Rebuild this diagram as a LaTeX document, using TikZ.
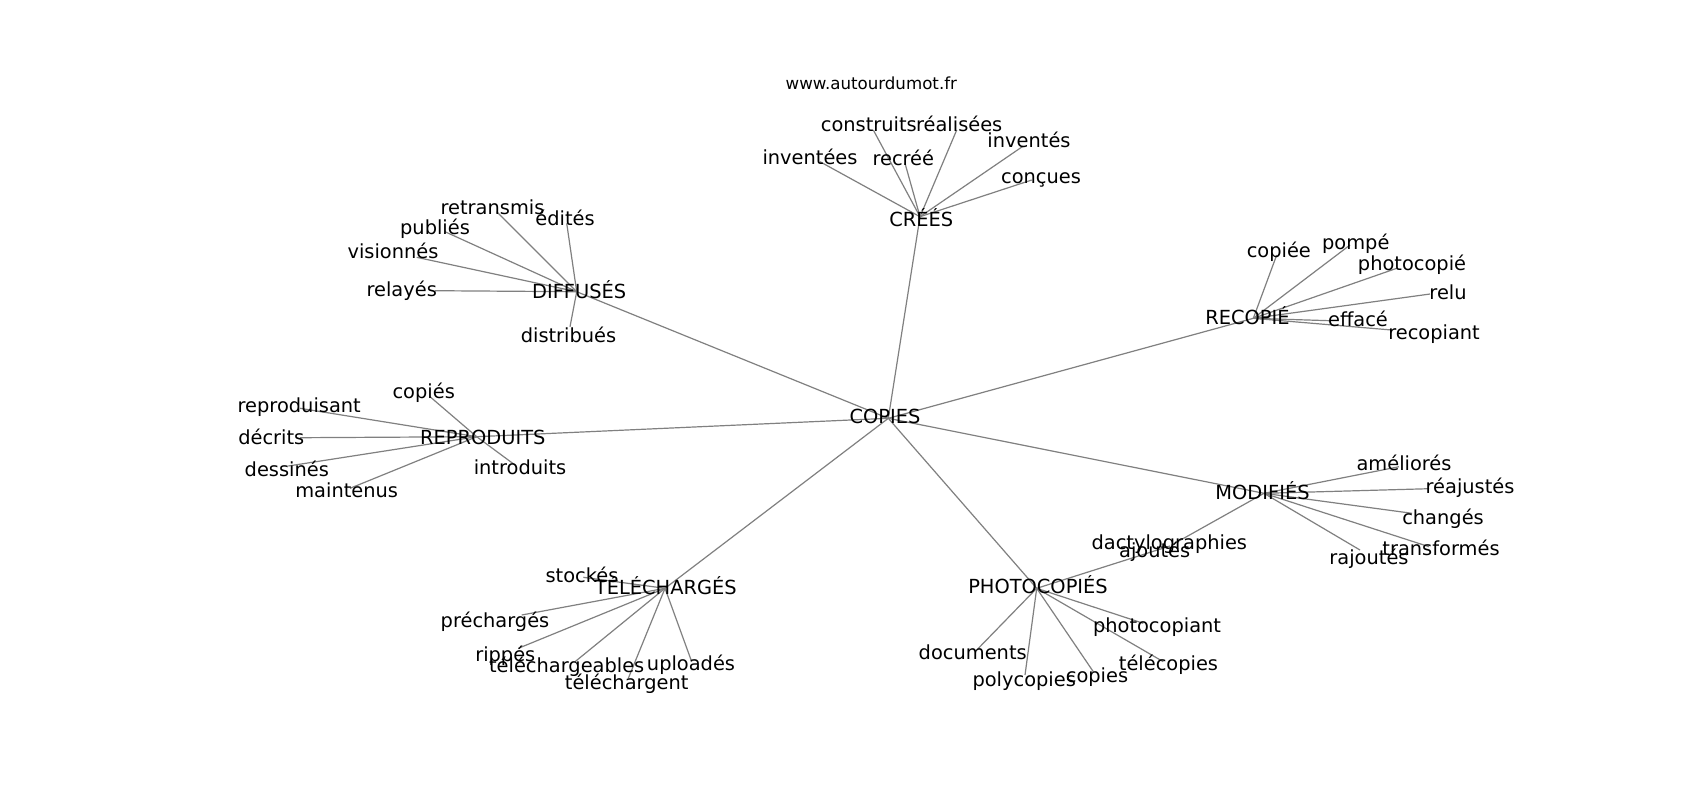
\documentclass[tikz,border=0pt]{standalone}
\usepackage{fontspec}
\setmainfont{DejaVu Sans}
\pgfdeclarelayer{back}
\pgfdeclarelayer{bg}
\pgfsetlayers{back,bg,main}
\tikzset{
  edge/.style={draw=gray, line width=0.6pt},
  lbl/.style={inner sep=0pt, text height=7.37pt, text depth=0pt, anchor=center, font=\fontsize{9.7}{11}\selectfont, text=black},
  urlbl/.style={inner sep=0pt, text height=6.33pt, text depth=0pt, anchor=center, font=\fontsize{8.33}{10}\selectfont, text=black}
}
\newcommand\wleaf[5]{%
  \coordinate (c#1) at (#3);
  \node[lbl] (t#1) at (#4) {#5};
  \begin{pgfonlayer}{bg}\draw[edge] (c#2) -- (c#1);\end{pgfonlayer}
}
\begin{document}
\begin{tikzpicture}[x=0.5pt, y=-0.5pt]
\begin{pgfonlayer}{back}
\fill[white] (0,0) rectangle (1700,800);
\end{pgfonlayer}
\useasboundingbox (0,0) rectangle (1700,800);

\node[urlbl] (url) at (871.3,83.3) {www.autourdumot.fr};

% center
\coordinate (cCOPIES) at (888.3,418.3);
\node[lbl] (tCOPIES) at (885,416) {COPIES};

% hubs
\wleaf{CREES}{COPIES}{920,216.7}{921.2,219.3}{CRÉÉS}
\wleaf{DIFFUSES}{COPIES}{576.7,291.7}{579.2,290.7}{DIFFUSÉS}
\wleaf{RECOPIE}{COPIES}{1253.3,318.3}{1247.5,317}{RECOPIÉ}
\wleaf{REPRODUITS}{COPIES}{476.7,436.7}{482.8,436.7}{REPRODUITS}
\wleaf{MODIFIES}{COPIES}{1264,493.3}{1262.5,491.7}{MODIFIÉS}
\wleaf{TELECHARGES}{COPIES}{665,588.3}{665.8,587.3}{TÉLÉCHARGÉS}
\wleaf{PHOTOCOPIES}{COPIES}{1036.7,588.3}{1038,585.7}{PHOTOCOPIÉS}

% CRÉÉS
\wleaf{construits}{CREES}{873.3,130}{868.8,124}{construits}
\wleaf{realisees}{CREES}{956.7,130}{959.2,124}{réalisées}
\wleaf{inventes}{CREES}{1023.3,146}{1029,140.5}{inventés}
\wleaf{inventees}{CREES}{820,161.7}{810,156.7}{inventées}
\wleaf{recree}{CREES}{905,163.3}{903.3,158.3}{recréé}
\wleaf{concues}{CREES}{1031.7,180}{1041,176}{conçues}

% DIFFUSÉS
\wleaf{retransmis}{DIFFUSES}{496.7,211.7}{492.5,206.7}{retransmis}
\wleaf{edites}{DIFFUSES}{566.7,223.3}{565,218.3}{édités}
\wleaf{publies}{DIFFUSES}{445,231.7}{435,226.7}{publiés}
\wleaf{visionnes}{DIFFUSES}{416.7,257.3}{393,251}{visionnés}
\wleaf{relayes}{DIFFUSES}{435,290.7}{401.7,289}{relayés}
\wleaf{distribues}{DIFFUSES}{570,326.7}{568.5,335}{distribués}

% RECOPIÉ
\wleaf{copiee}{RECOPIE}{1276.7,255}{1278.8,250}{copiée}
\wleaf{pompe}{RECOPIE}{1350,245}{1355.8,241.7}{pompé}
\wleaf{photocopie}{RECOPIE}{1396.7,268.3}{1412,263.3}{photocopié}
\wleaf{relu}{RECOPIE}{1430,294}{1448,291.7}{relu}
\wleaf{efface}{RECOPIE}{1330,320.7}{1358,319.3}{effacé}
\wleaf{recopiant}{RECOPIE}{1391.7,330}{1434,331.7}{recopiant}

% REPRODUITS
\wleaf{copies2}{REPRODUITS}{430,396.7}{423.7,390.7}{copiés}
\wleaf{reproduisant}{REPRODUITS}{300,408.3}{299.2,405}{reproduisant}
\wleaf{decrits}{REPRODUITS}{300,437.7}{271.3,437.3}{décrits}
\wleaf{dessines}{REPRODUITS}{288.3,466}{286.8,469}{dessinés}
\wleaf{maintenus}{REPRODUITS}{350,488.3}{346.7,490}{maintenus}
\wleaf{introduits}{REPRODUITS}{515,465}{520,466.7}{introduits}

% MODIFIÉS
\wleaf{ameliores}{MODIFIES}{1399,466.7}{1404,463.3}{améliorés}
\wleaf{reajustes}{MODIFIES}{1429,488.7}{1470,486}{réajustés}
\wleaf{changes}{MODIFIES}{1412,513.3}{1443,516.7}{changés}
\wleaf{transformes}{MODIFIES}{1429,546.7}{1441,548.3}{transformés}
\wleaf{rajoutes}{MODIFIES}{1360,550}{1369,556.7}{rajoutés}
\wleaf{dactylographies}{MODIFIES}{1171.7,545}{1169.3,541.7}{dactylographies}

% PHOTOCOPIÉS
\wleaf{ajoutes}{PHOTOCOPIES}{1170,546}{1154.7,550}{ajoutés}
\wleaf{photocopiant}{PHOTOCOPIES}{1143.3,623.3}{1157,625}{photocopiant}
\wleaf{documents}{PHOTOCOPIES}{976.7,650}{972.7,651.7}{documents}
\wleaf{polycopies}{PHOTOCOPIES}{1025,675}{1024.2,679.3}{polycopies}
\wleaf{copiesb}{PHOTOCOPIES}{1093.3,671.7}{1097,675}{copies}
\wleaf{telecopies}{PHOTOCOPIES}{1163.3,661.7}{1168.5,663.3}{télécopies}

% TÉLÉCHARGÉS
\wleaf{stockes}{TELECHARGES}{583.3,577.3}{582,575}{stockés}
\wleaf{precharges}{TELECHARGES}{521.7,615}{495,620}{préchargés}
\wleaf{rippes}{TELECHARGES}{518.3,648.3}{505.3,654}{rippés}
\wleaf{telechargeables}{TELECHARGES}{575,661.7}{566.7,665}{téléchargeables}
\wleaf{telechargent}{TELECHARGES}{628.3,678.3}{626.7,681.7}{téléchargent}
\wleaf{uploades}{TELECHARGES}{691.7,661.7}{691,663.3}{uploadés}
\end{tikzpicture}
\end{document}
